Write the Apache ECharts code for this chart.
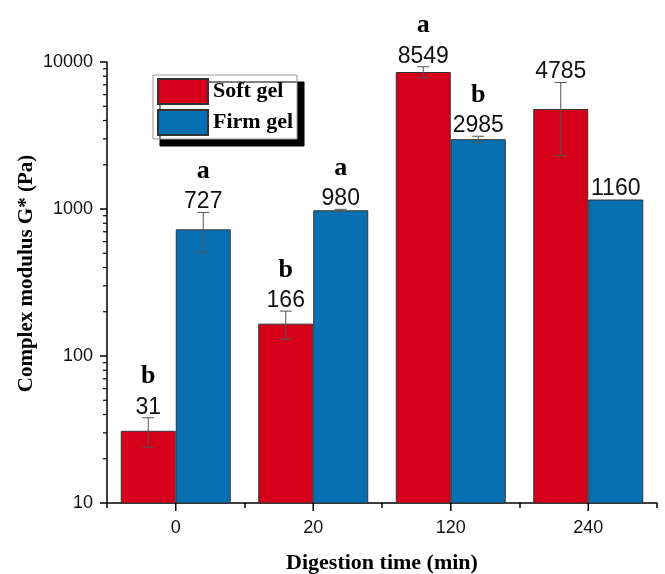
<!DOCTYPE html>
<html>
<head>
<meta charset="utf-8">
<script src="https://cdn.jsdelivr.net/npm/echarts@6/dist/echarts.min.js"></script>
<style>html,body{margin:0;padding:0;background:#fff;}#c{width:665px;height:574px;}</style>
</head>
<body>
<div id="c"></div>
<script>
// ---- data ----
const categories = ['0', '20', '120', '240'];
const softValues = [31, 166, 8549, 4785];
const softErrors = [7, 36, 740, 2470];
const softLetters = ['b', 'b', 'a', ''];
const firmValues = [727, 980, 2985, 1160];
const firmErrors = [220, 15, 140, 0];
const firmLetters = ['a', 'a', 'b', ''];
const yMin = 10;
const yMax = 10000;
const minorTickValues = [20, 30, 40, 50, 60, 70, 80, 90,
  200, 300, 400, 500, 600, 700, 800, 900,
  2000, 3000, 4000, 5000, 6000, 7000, 8000, 9000];

const RED = '#d7001a';
const BLUE = '#0670b2';

function makeRender(sign, letters) {
  return function (params, api) {
    const i = api.value(0), v = api.value(1), e = api.value(2);
    const band = api.size([1, 0])[0];
    const cx = api.coord([i, v])[0] + sign * band * 0.2;
    const yBar = api.coord([i, v])[1];
    const children = [];
    let anchor = yBar;
    if (e > 0) {
      const yTop = api.coord([i, v + e])[1];
      const yBot = api.coord([i, Math.max(v - e, yMin)])[1];
      const lineStyle = { stroke: '#555', lineWidth: 1 };
      children.push({ type: 'line', shape: { x1: cx, y1: yTop, x2: cx, y2: yBot }, style: lineStyle });
      children.push({ type: 'line', shape: { x1: cx - 6, y1: yTop, x2: cx + 6, y2: yTop }, style: lineStyle });
      children.push({ type: 'line', shape: { x1: cx - 6, y1: yBot, x2: cx + 6, y2: yBot }, style: lineStyle });
      anchor = yTop;
    }
    children.push({
      type: 'text',
      style: {
        text: String(v), x: cx, y: anchor + 1, align: 'center', verticalAlign: 'bottom',
        font: '23px "Liberation Sans", Arial, sans-serif', fill: '#111'
      }
    });
    const letter = letters[params.dataIndex];
    if (letter) {
      children.push({
        type: 'text',
        style: {
          text: letter, x: cx, y: anchor - 28, align: 'center', verticalAlign: 'bottom',
          font: 'bold 26px "Liberation Serif", "Times New Roman", serif', fill: '#000'
        }
      });
    }
    return { type: 'group', children: children };
  };
}

// minor ticks on the log y axis (2..9 in each decade), placed through the axis scale
function renderMinorTick(params, api) {
  const v = api.value(1);
  const band = api.size([1, 0])[0];
  const p = api.coord([0, v]);
  const x0 = p[0] - band / 2;
  return {
    type: 'group',
    children: [{ type: 'line', shape: { x1: x0 - 4, y1: p[1], x2: x0, y2: p[1] }, style: { stroke: '#000', lineWidth: 1.2 } }]
  };
}

// ticks at category centres on the x axis
function renderCenterTick(params, api) {
  const p = api.coord([api.value(0), yMin]);
  return {
    type: 'group',
    children: [{ type: 'line', shape: { x1: p[0], y1: p[1], x2: p[0], y2: p[1] + 8 }, style: { stroke: '#000', lineWidth: 1.5 } }]
  };
}

const chart = echarts.init(document.getElementById('c'), null, { renderer: 'canvas' });
chart.setOption({
  animation: false,
  backgroundColor: '#fff',
  grid: { left: 107, right: 8, top: 62, bottom: 71, containLabel: false, outerBoundsMode: 'none' },
  legend: {
    data: ['Soft gel', 'Firm gel'],
    orient: 'vertical',
    left: 153, top: 75,
    padding: [3, 4, 3, 4],
    itemWidth: 50, itemHeight: 25, itemGap: 4,
    icon: 'rect',
    backgroundColor: '#fff',
    borderColor: '#999', borderWidth: 1,
    shadowColor: '#000', shadowBlur: 0, shadowOffsetX: 7, shadowOffsetY: 7,
    textStyle: { fontFamily: '"Liberation Serif", "Times New Roman", serif', fontWeight: 'bold', fontSize: 22, color: '#000' }
  },
  xAxis: {
    type: 'category', data: categories, position: 'bottom',
    name: 'Digestion time (min)', nameLocation: 'middle', nameGap: 49, nameMoveOverlap: false,
    nameTextStyle: { fontFamily: '"Liberation Serif", "Times New Roman", serif', fontWeight: 'bold', fontSize: 22, color: '#000' },
    axisLine: { lineStyle: { color: '#000', width: 1.5 } },
    axisTick: { show: true, length: 5, inside: false, lineStyle: { color: '#000', width: 1.5 } },
    axisLabel: { margin: 16, fontFamily: '"Liberation Sans", Arial, sans-serif', fontSize: 18, color: '#111' },
    splitLine: { show: false }
  },
  yAxis: {
    type: 'log', logBase: 10, min: yMin, max: yMax,
    name: 'Complex modulus G* (Pa)', nameLocation: 'middle', nameGap: 70, nameRotate: 90, nameMoveOverlap: false,
    nameTextStyle: { fontFamily: '"Liberation Serif", "Times New Roman", serif', fontWeight: 'bold', fontSize: 21, color: '#000', padding: [0, 0, 0, 18] },
    axisLine: { show: true, lineStyle: { color: '#000', width: 1.5 } },
    axisTick: { show: true, length: 7, lineStyle: { color: '#000', width: 1.5 } },
    axisLabel: { margin: 14, fontFamily: '"Liberation Sans", Arial, sans-serif', fontSize: 18, color: '#111', formatter: function (v) { return String(Math.round(v)); } },
    splitLine: { show: false },
    minorTick: { show: false }
  },
  series: [
    {
      name: 'Soft gel', type: 'bar', data: softValues, barGap: '0%', barCategoryGap: '20%',
      itemStyle: { color: RED, borderColor: '#333', borderWidth: 1 }
    },
    {
      name: 'Firm gel', type: 'bar', data: firmValues, barGap: '0%', barCategoryGap: '20%',
      itemStyle: { color: BLUE, borderColor: '#333', borderWidth: 1 }
    },
    {
      name: 'soft-err', type: 'custom', clip: false, z: 5,
      data: softValues.map(function (v, i) { return [i, v, softErrors[i]]; }),
      renderItem: makeRender(-1, softLetters)
    },
    {
      name: 'firm-err', type: 'custom', clip: false, z: 5,
      data: firmValues.map(function (v, i) { return [i, v, firmErrors[i]]; }),
      renderItem: makeRender(1, firmLetters)
    },
    {
      name: 'minor-ticks', type: 'custom', clip: false, z: 6,
      data: minorTickValues.map(function (t) { return [0, t]; }),
      renderItem: renderMinorTick
    },
    {
      name: 'center-ticks', type: 'custom', clip: false, z: 6,
      data: categories.map(function (c, i) { return [i, yMin]; }),
      renderItem: renderCenterTick
    }
  ]
});
</script>
</body>
</html>
